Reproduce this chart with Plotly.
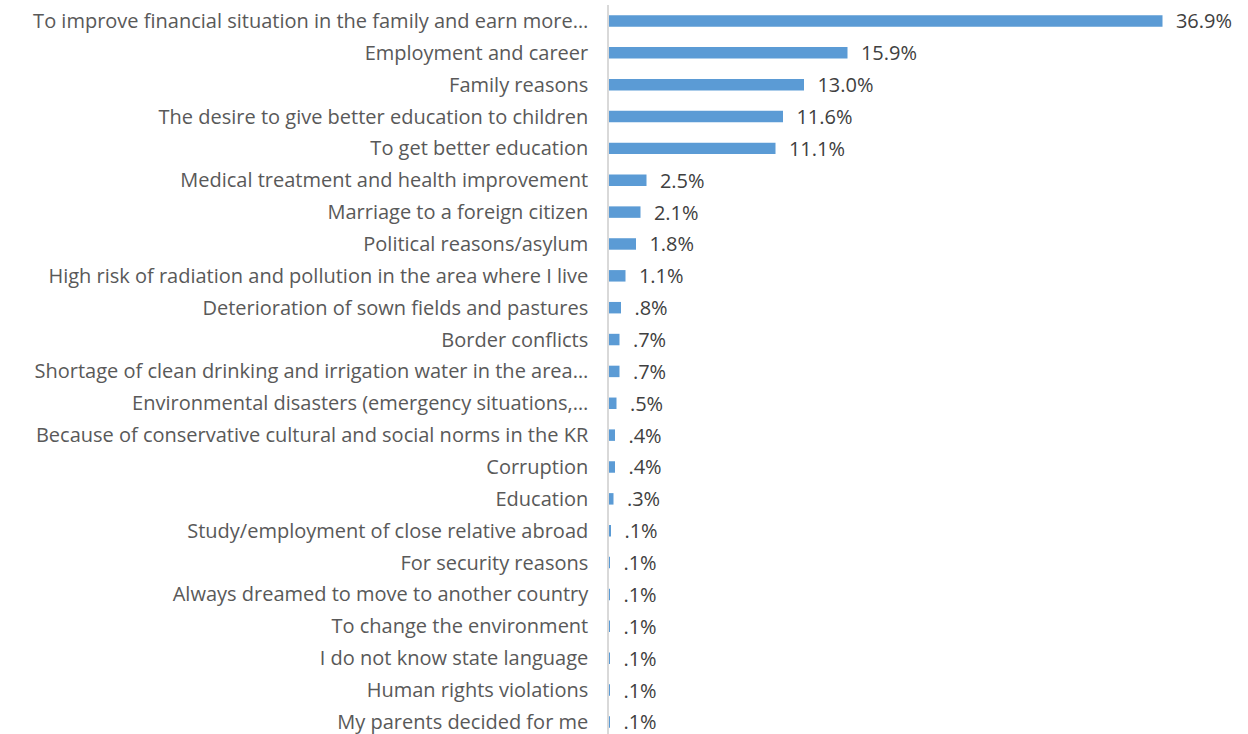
import plotly.graph_objects as go

reasons = [
    "To improve financial situation in the family and earn more…",
    "Employment and career",
    "Family reasons",
    "The desire to give better education to children",
    "To get better education",
    "Medical treatment and health improvement",
    "Marriage to a foreign citizen",
    "Political reasons/asylum",
    "High risk of radiation and pollution in the area where I live",
    "Deterioration of sown fields and pastures",
    "Border conflicts",
    "Shortage of clean drinking and irrigation water in the area…",
    "Environmental disasters (emergency situations,…",
    "Because of conservative cultural and social norms in the KR",
    "Corruption",
    "Education",
    "Study/employment of close relative abroad",
    "For security reasons",
    "Always dreamed to move to another country",
    "To change the environment",
    "I do not know state language",
    "Human rights violations",
    "My parents decided for me",
]
shares = [36.9, 15.9, 13.0, 11.6, 11.1, 2.5, 2.1, 1.8, 1.1, 0.8, 0.7, 0.7,
          0.5, 0.4, 0.4, 0.3, 0.1, 0.01, 0.01, 0.01, 0.01, 0.01, 0.01]
share_labels = ["36.9%", "15.9%", "13.0%", "11.6%", "11.1%", "2.5%", "2.1%",
                "1.8%", "1.1%", ".8%", ".7%", ".7%", ".5%", ".4%", ".4%", ".3%",
                ".1%", ".1%", ".1%", ".1%", ".1%", ".1%", ".1%"]

FONT = 'Open Sans'

fig = go.Figure()
fig.add_trace(go.Bar(
    y=reasons,
    x=shares,
    orientation='h',
    marker=dict(color='#5b9bd5', line=dict(width=0)),
    text=["\u00a0\u00a0" + s for s in share_labels],
    textposition='outside',
    constraintext='none',
    textfont=dict(family=FONT, size=20, color='#404040'),
    cliponaxis=False,
))

fig.update_layout(
    width=1248,
    height=734,
    plot_bgcolor='white',
    paper_bgcolor='white',
    bargap=0.64,
    showlegend=False,
    margin=dict(l=609, r=39, t=5, b=0),
    font=dict(family=FONT, size=20, color='#595959'),
    xaxis=dict(
        range=[0, 40],
        showgrid=False,
        zeroline=False,
        showticklabels=False,
        showline=False,
    ),
    yaxis=dict(
        range=[22.38, -0.5],
        automargin=False,
        showgrid=False,
        zeroline=False,
        showline=True,
        linecolor='#d9d9d9',
        linewidth=1.5,
        ticks='',
        ticklabelstandoff=15,
        tickfont=dict(family=FONT, size=20, color='#595959'),
    ),
)

fig.write_html("out.html", config={'displayModeBar': False},
               post_script="document.body.style.margin='0';")
